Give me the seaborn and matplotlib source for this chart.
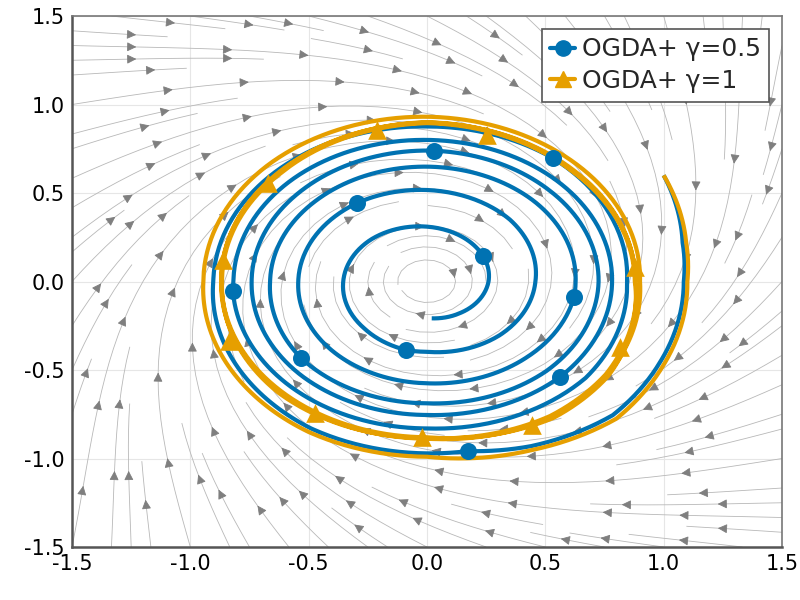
import numpy as np
import matplotlib
matplotlib.use("Agg")
import matplotlib.pyplot as plt
import seaborn as sns
from matplotlib.path import Path
from matplotlib.patches import PathPatch, FancyArrowPatch
from matplotlib.lines import Line2D
from matplotlib.projections.polar import PolarTransform

sns.set_theme(style="white")
plt.rcParams['font.family'] = ['DejaVu Sans']
plt.rcParams['axes.unicode_minus'] = False

# ---------------- data ----------------
# OGDA+ gamma=0.5 trajectory (clockwise, inward)
blue_x = [1.00, 1.08, 1.085, 0.985, 0.785, 0.44, 0.173, 0.00, -0.49, -0.903,
          -0.63, 0.00, 0.532, 0.845, 0.67, 0.00, -0.585, -0.82, -0.818, -0.573,
          0.00, 0.559, 0.782, 0.562, 0.00, -0.531, -0.741, -0.522, 0.00, 0.03,
          0.516, 0.725, 0.505, 0.00, -0.532, -0.663, -0.463, 0.00, 0.453, 0.628,
          0.621, 0.425, 0.00, -0.396, -0.544, -0.296, 0.00, 0.35, 0.458, 0.305,
          0.00, -0.089, -0.265, -0.354, -0.237, 0.00, 0.237, 0.26, 0.14, 0.02]
blue_y = [0.60, 0.22, 0.00, -0.455, -0.755, -0.93, -0.958, -0.971, -0.83, 0.00,
          0.63, 0.876, 0.697, 0.00, -0.545, -0.83, -0.585, -0.054, 0.00, 0.573,
          0.80, 0.559, 0.00, -0.539, -0.754, -0.531, 0.00, 0.522, 0.74, 0.739,
          0.516, 0.00, -0.505, -0.688, -0.432, 0.00, 0.463, 0.649, 0.453, 0.00,
          -0.088, -0.425, -0.575, -0.396, 0.00, 0.443, 0.517, 0.35, 0.00, -0.305,
          -0.397, -0.387, -0.265, 0.00, 0.237, 0.31, 0.144, 0.00, -0.178, -0.208]
# circle markers on the gamma=0.5 trajectory
blue_mx = [0.173, 0.532, -0.82, 0.562, 0.03, -0.532, 0.621, -0.296, -0.089, 0.237]
blue_my = [-0.958, 0.697, -0.054, -0.539, 0.739, -0.432, -0.088, 0.443, -0.387, 0.144]

# OGDA+ gamma=1 trajectory (clockwise, settles on a cycle)
orange_x = [1.00, 1.095, 1.10, 1.00, 0.80, 0.45, 0.00, -0.50, -0.945, -0.665,
            0.00, 0.647, 0.90, 0.76, 0.53, 0.00, -0.622, -0.870, -0.619, 0.00,
            0.620, 0.882, 0.755, 0.52, 0.00, -0.628, -0.866, -0.615, 0.00, 0.618,
            0.878, 0.765, 0.535, 0.00, -0.618, -0.868, -0.622, 0.00, 0.624, 0.880]
orange_y = [0.60, 0.22, 0.00, -0.47, -0.775, -0.95, -0.99, -0.85, 0.00, 0.665,
            0.931, 0.647, 0.00, -0.53, -0.765, -0.888, -0.622, 0.00, 0.619, 0.900,
            0.620, 0.00, -0.525, -0.76, -0.884, -0.628, 0.00, 0.615, 0.895, 0.618,
            0.00, -0.535, -0.77, -0.880, -0.618, 0.00, 0.622, 0.898, 0.624, 0.00]
# triangle markers on the gamma=1 trajectory
orange_mx = [-0.862, -0.67, -0.213, 0.252, 0.88, 0.815, 0.442, -0.023, -0.473, -0.835]
orange_my = [0.12, 0.555, 0.856, 0.828, 0.08, -0.368, -0.81, -0.877, -0.743, -0.335]

series_labels = ["OGDA+ γ=0.5", "OGDA+ γ=1"]
ticks = [-1.5, -1.0, -0.5, 0.0, 0.5, 1.0, 1.5]
tick_labels = ["-1.5", "-1.0", "-0.5", "0.0", "0.5", "1.0", "1.5"]

# vector field of the background stream plot (rotation + outer contraction)
field_c = 0.3

BLUE = "#0072B2"
ORANGE = "#E69F00"
STREAM = "#b8b8b8"
ARROW = "#7f7f7f"

# ---------------- figure ----------------
fig = plt.figure(figsize=(8, 6), dpi=100)
ax = fig.add_axes([0.09, 0.0883, 0.8875, 0.885])
ax.set_xlim(-1.5, 1.5)
ax.set_ylim(-1.5, 1.5)

g = np.linspace(-1.5, 1.5, 81)
X, Y = np.meshgrid(g, g)
R2 = X ** 2 + Y ** 2
U = Y - field_c * X * R2
V = -X - field_c * Y * R2
sp = ax.streamplot(X, Y, U, V, density=1.25, color=STREAM, linewidth=0.6,
                   arrowsize=1.4, arrowstyle="-|>", zorder=1)
# replace the single mid-line arrow by arrows spaced along each streamline
for p in list(ax.patches):
    p.remove()
ax.set_xlim(-1.5, 1.5)
ax.set_ylim(-1.5, 1.5)
spacing_px = 85.0
for seg in sp.lines.get_segments():
    seg = np.asarray(seg)
    if len(seg) < 3:
        continue
    disp = ax.transData.transform(seg)
    d = np.hypot(*np.diff(disp, axis=0).T)
    s = np.concatenate([[0], np.cumsum(d)])
    total = s[-1]
    if total < 25:
        continue
    n_arr = max(1, int(total // spacing_px))
    offs = (total - (n_arr - 1) * spacing_px) / 2.0
    for k in range(n_arr):
        target = offs + k * spacing_px
        n = int(np.searchsorted(s, target))
        n = min(max(n, 0), len(seg) - 2)
        tail = seg[n]
        head = seg[n:n + 2].mean(axis=0)
        ax.add_patch(FancyArrowPatch(tail, head, arrowstyle="-|>",
                                     mutation_scale=14, color=ARROW,
                                     linewidth=0.6, zorder=1.5))

try:
    ptr = PolarTransform(apply_theta_transforms=False)
except TypeError:
    ptr = PolarTransform()


def spiral(xs, ys, color, z):
    xs = np.asarray(xs, float)
    ys = np.asarray(ys, float)
    th = np.unwrap(np.arctan2(ys, xs))
    r = np.hypot(xs, ys)
    path = Path(np.column_stack([th, r]), _interpolation_steps=40)
    path.should_simplify = False
    patch = PathPatch(path, transform=ptr + ax.transData, fill=False,
                      edgecolor=color, linewidth=3.0, capstyle="butt",
                      joinstyle="round", zorder=z)
    ax.add_patch(patch)


spiral(blue_x, blue_y, BLUE, 3)
spiral(orange_x, orange_y, ORANGE, 4)

sns.scatterplot(x=blue_mx, y=blue_my, ax=ax, color=BLUE, marker="o", s=150,
                linewidth=0, zorder=5, legend=False)
sns.scatterplot(x=orange_mx, y=orange_my, ax=ax, color=ORANGE, marker="^", s=180,
                linewidth=0, zorder=6, legend=False)

ax.set_xlim(-1.5, 1.5)
ax.set_ylim(-1.5, 1.5)
ax.set_xticks(ticks)
ax.set_xticklabels(tick_labels)
ax.set_yticks(ticks)
ax.set_yticklabels(tick_labels)
ax.tick_params(direction="in", length=4, width=1, colors="#444444",
               labelcolor="black", labelsize=15, pad=5)
ax.grid(True, color="#e6e6e6", linewidth=0.8)
ax.set_axisbelow(True)
for side in ["left", "bottom"]:
    ax.spines[side].set_linewidth(1.8)
    ax.spines[side].set_color("#555555")
for side in ["top", "right"]:
    ax.spines[side].set_linewidth(1.2)
    ax.spines[side].set_color("#777777")
    ax.spines[side].set_visible(True)

handles = [Line2D([0], [0], color=BLUE, lw=3, marker="o", markersize=11),
           Line2D([0], [0], color=ORANGE, lw=3, marker="^", markersize=12)]
leg = ax.legend(handles, series_labels, loc="upper right", fontsize=18,
                frameon=True, fancybox=False, framealpha=1, edgecolor="#555555",
                handlelength=1.0, handletextpad=0.25, borderpad=0.35,
                labelspacing=0.3, borderaxespad=0.5)
leg.get_frame().set_linewidth(1.2)
leg.set_zorder(10)

fig.savefig("out.png", dpi=100)
